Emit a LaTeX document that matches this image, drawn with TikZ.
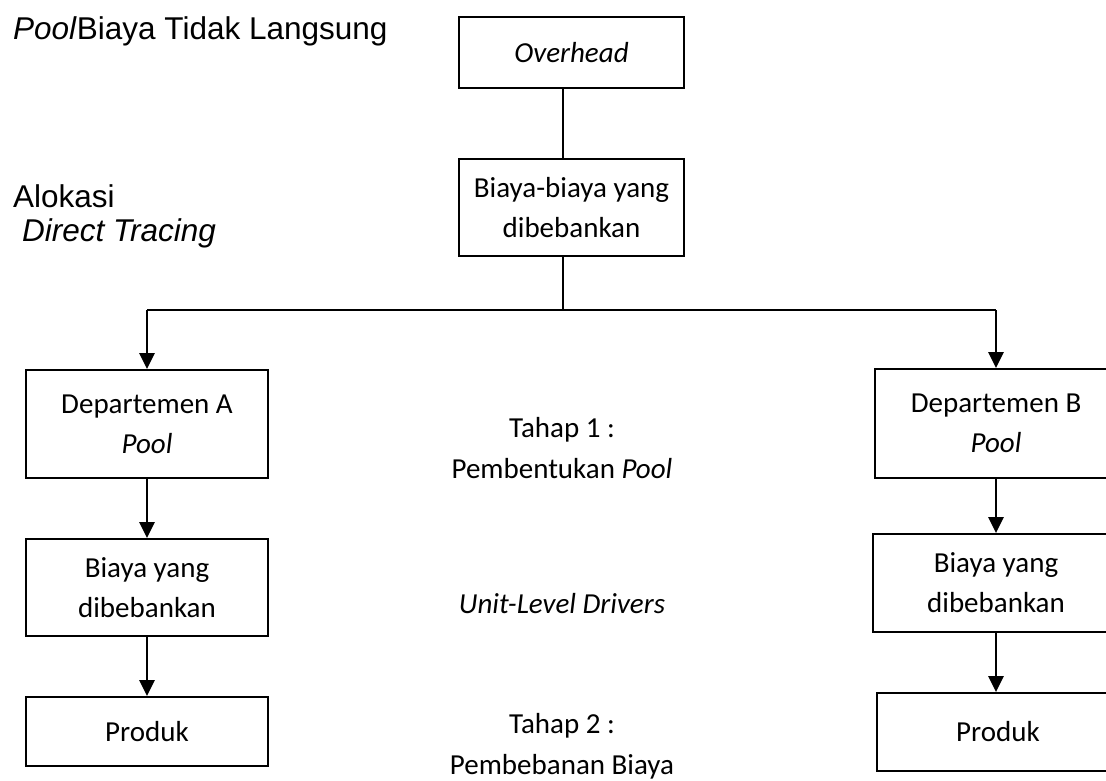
\documentclass[tikz,border=0pt]{standalone}
\usepackage{fontspec}
\setmainfont{Carlito}
\newfontfamily\arialf{Liberation Sans}
\usetikzlibrary{arrows.meta,calc}
\tikzset{
  box/.style={draw=black,line width=1.8pt,minimum width=242pt,inner sep=0pt,align=center,
    font=\fontsize{29}{40}\selectfont},
  lbl/.style={inner sep=0pt,anchor=base,font=\fontsize{29}{40}\selectfont},
  side/.style={inner sep=0pt,anchor=base west,font=\arialf\fontsize{31.5}{38}\selectfont},
  arr/.style={line width=2.5pt,-{Triangle[length=16pt,width=15pt]}},
  link/.style={line width=1.6pt},
}
\begin{document}
\begin{tikzpicture}[x=1pt,y=-1pt]
\useasboundingbox (0,0) rectangle (1106,780);
\clip (0,0) rectangle (1106,780);
% left labels
\node[side] (t1) at (13,39) {\textit{Pool}Biaya Tidak Langsung};
\node[side] (t2) at (13,207) {Alokasi};
\node[side] (t3) at (22,241) {\textit{Direct Tracing}};
% top boxes
\node[box,minimum width=225pt,minimum height=71pt] (ovh) at (571.5,52.5) {\textit{Overhead}};
\node[box,minimum width=225pt,minimum height=97pt] (bb) at (571.5,207.5) {Biaya-biaya yang\\dibebankan};
% left column
\node[box,minimum height=108pt] (deptA) at (147,424) {Departemen A\\\textit{Pool}};
\node[box,minimum height=97pt] (biayaA) at (147,587.5) {Biaya yang\\dibebankan};
\node[box,minimum height=69pt] (prodA) at (147,731.5) {Produk};
% right column
\node[box,minimum height=109pt] (deptB) at (996,423.5) {Departemen B\\\textit{Pool}};
\node[box,minimum width=246pt,minimum height=98pt] (biayaB) at (996,583) {Biaya yang\\dibebankan};
\node[box,minimum height=78pt] (prodB) at (998,732) {Produk};
% middle labels
\node[lbl] (s1a) at (562,437) {Tahap 1 :};
\node[lbl] (s1b) at (562,478) {Pembentukan \textit{Pool}};
\node[lbl] (drv) at (562,613) {\textit{Unit-Level Drivers}};
\node[lbl] (s2a) at (562,733) {Tahap 2 :};
\node[lbl] (s2b) at (562,774) {Pembebanan Biaya};
% connectors
\coordinate (j) at (563,310);
\draw[link] (ovh.south -| j) -- (bb.north -| j);
\draw[link] (bb.south -| j) -- (j);
\draw[link] (j) -- (j -| deptA.north);
\draw[link] (j) -- (j -| deptB.north);
\draw[arr] (j -| deptA.north) -- (deptA.north);
\draw[arr] (j -| deptB.north) -- (deptB.north);
\draw[arr] (deptA.south) -- (biayaA.north);
\draw[arr] (biayaA.south) -- (prodA.north);
\draw[arr] (deptB.south) -- (biayaB.north);
\draw[arr] (biayaB.south) -- (biayaB.south |- prodB.north);
\end{tikzpicture}
\end{document}
